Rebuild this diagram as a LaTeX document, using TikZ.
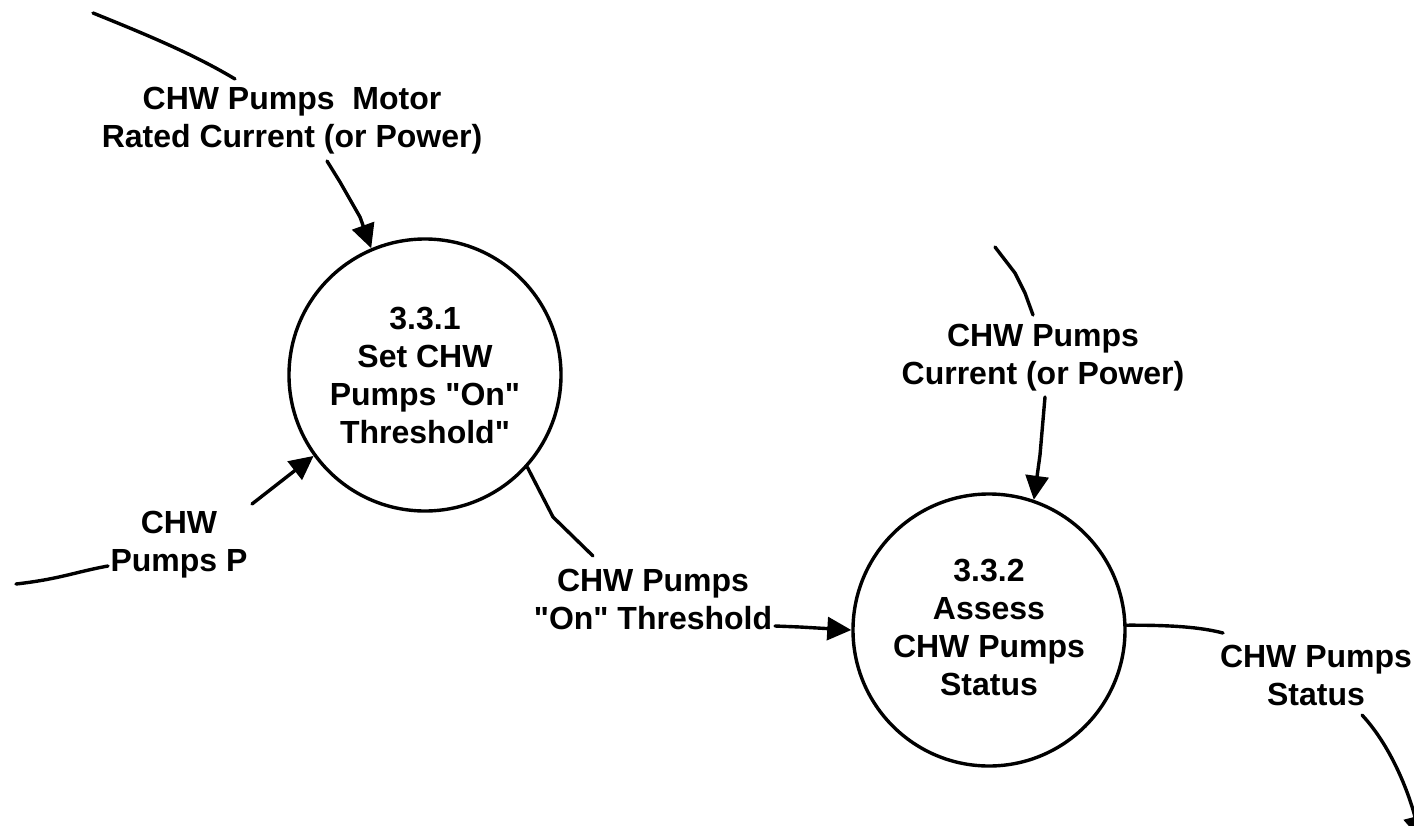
\documentclass[tikz,border=0pt]{standalone}
\usepackage{fontspec}
\setmainfont{Liberation Sans}[Ligatures=TeXOff]
\usetikzlibrary{arrows.meta}
\begin{document}
\begin{tikzpicture}[x=1pt,y=-1pt,line width=3.4pt,
  txt/.style={font=\bfseries\fontsize{32}{38}\selectfont, align=center, inner sep=0pt},
  proc/.style={txt, circle, draw, minimum size=272pt},
  lbl/.style={txt},
  flow/.style={-{Triangle[length=24pt,width=23pt]}},
  wire/.style={line cap=round, line join=round}]
\useasboundingbox[fill=white] (0,0) rectangle (1414,825);
\clip (0,0) rectangle (1414,825);
% processes
\node[proc] (c1) at (425,375) {3.3.1\\Set CHW\\Pumps "On"\\Threshold"};
\node[proc] (c2) at (989,630) {};
\node[txt] (c2t) at (989,627) {3.3.2\\Assess\\CHW Pumps\\Status};
% labels
\node[lbl] (l1) at (292,121) {CHW Pumps~ Motor\\Rated Current (or Power)};
\node[lbl] (l2) at (179,545) {CHW\\Pumps P};
\node[lbl] (l3) at (653,599) {CHW Pumps\\"On" Threshold};
\node[lbl] (l4) at (1043,358) {CHW Pumps\\Current (or Power)};
\node[lbl] (l5) at (1316,675) {CHW Pumps\\Status};
% free ends and label-side ends
\coordinate (s1) at (93,13);
\coordinate (l1a) at (235,79);
\coordinate (l1b) at (327,161);
\coordinate (s2) at (16,584);
\coordinate (l2a) at (108,566);
\coordinate (l2b) at (252,504);
\coordinate (l3a) at (593,556);
\coordinate (l3b) at (775,626);
\coordinate (s4) at (995,247);
\coordinate (l4a) at (1033,315);
\coordinate (l4b) at (1045,397);
\coordinate (l5a) at (1223,633);
\coordinate (l5b) at (1362,715);
\coordinate (e5) at (1421,840);
% flows
\draw[wire] (s1) .. controls (150,36) and (195,55) .. (l1a);
\draw[wire,flow] (l1b) -- (340,182) -- (360,217) -- (c1.113.7);
\draw[wire] (s2) .. controls (60,579) and (75,572) .. (l2a);
\draw[wire,flow] (l2b) -- (c1.216);
\draw[wire] (c1.-42.4) -- (553,517) -- (l3a);
\draw[wire,flow] (l3b) -- (800,627) -- (c2.180);
\draw[wire] (s4) -- (1015,273) -- (1025,293) -- (l4a);
\draw[wire,flow] (l4b) -- (1040,455) -- (c2.71.6);
\draw[wire] (c2.2) .. controls (1170,625) and (1200,627) .. (l5a);
\draw[wire,flow] (l5b) .. controls (1390,745) and (1408,790) .. (e5);
\end{tikzpicture}
\end{document}
